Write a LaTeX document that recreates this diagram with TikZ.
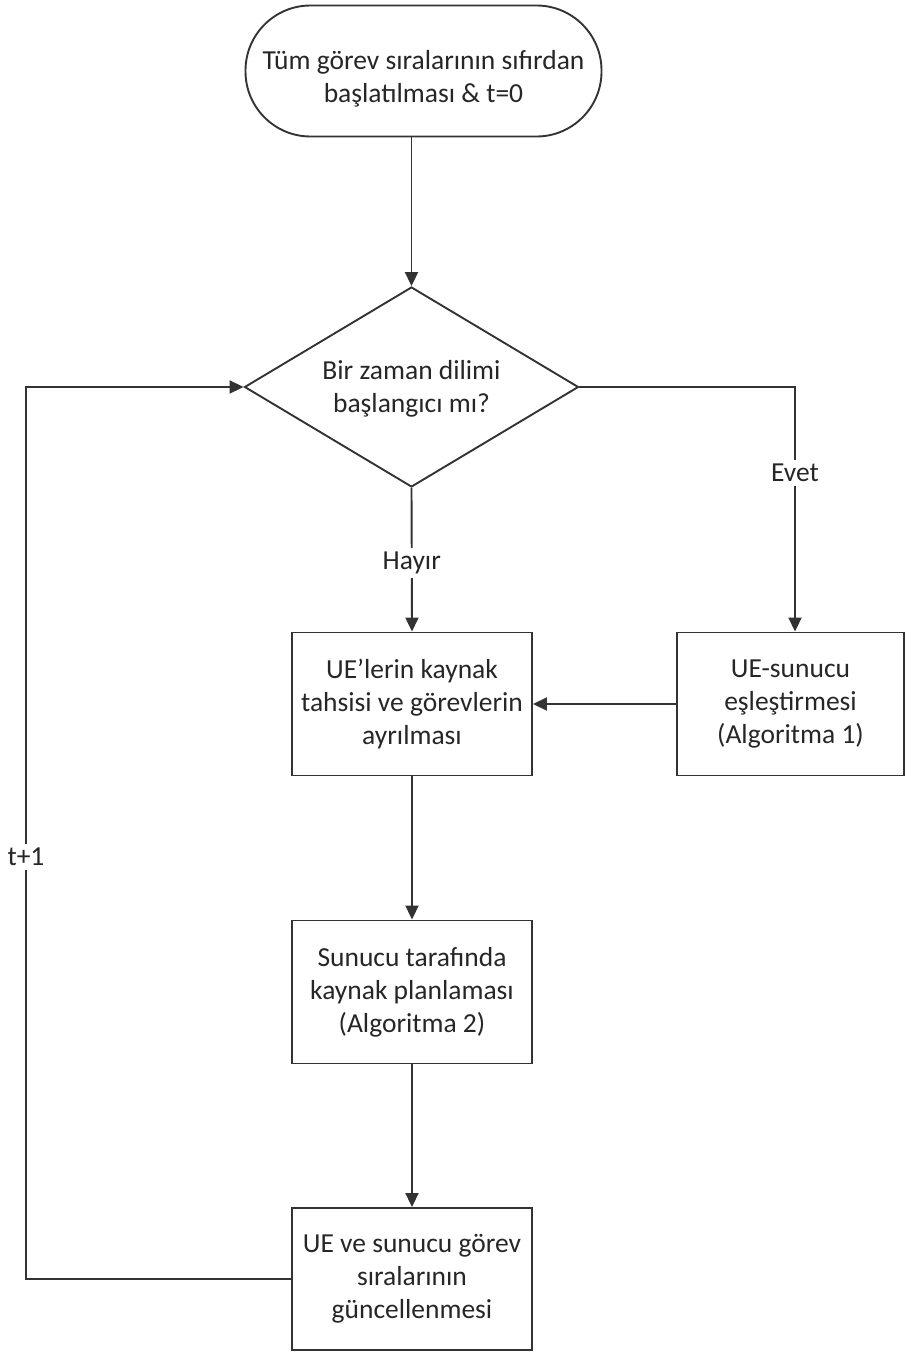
\documentclass[tikz,border=0pt]{standalone}
\usepackage{fontspec}
\setmainfont{Carlito}
\usetikzlibrary{arrows.meta,shapes.geometric}

\tikzset{
  line/.style={draw=black!80, line width=1.9pt},
  arr/.style={line, -{Triangle[length=14pt,width=13pt]}},
  txt/.style={align=center, inner sep=0pt,
    font=\fontsize{27.5pt}{33pt}\selectfont, text=black!85},
  procbox/.style={line, rectangle, txt},
  lbl/.style={fill=white, inner sep=4pt, font=\fontsize{27.5pt}{32pt}\selectfont, text=black!85}
}

\begin{document}
\begin{tikzpicture}[x=1pt,y=-1pt]
  \useasboundingbox (0,0) rectangle (906,1354);

  % start terminal (outline and its text)
  \node[line, rounded corners=65pt, minimum width=356pt, minimum height=131pt]
    (start) at (423.5,71) {};
  \node[txt] (startText) at (423.5,79) {Tüm görev sıralarının sıfırdan\\başlatılması \& t=0};

  % decision (outline and its text)
  \node[line, shape=diamond, minimum width=334pt, minimum height=200pt, inner sep=0pt]
    (dec) at (411.5,387) {};
  \node[txt] (decText) at (411.5,389) {Bir zaman dilimi\\başlangıcı mı?};

  % process boxes
  \node[procbox, minimum width=240pt, minimum height=143pt]
    (alloc) at (412,704) {UE’lerin kaynak\\tahsisi ve görevlerin\\ayrılması};
  \node[procbox, minimum width=227pt, minimum height=143pt]
    (match) at (790.5,704) {UE-sunucu\\eşleştirmesi\\(Algoritma 1)};
  \node[procbox, minimum width=240pt, minimum height=143pt]
    (sched) at (412,992) {Sunucu tarafında\\kaynak planlaması\\(Algoritma 2)};
  \node[procbox, minimum width=240pt, minimum height=142pt]
    (upd) at (412,1279) {UE ve sunucu görev\\sıralarının\\güncellenmesi};

  % corner points of the routed connectors
  \coordinate (yesc) at (795,387);
  \coordinate (loopb) at (26,1279);
  \coordinate (loopt) at (26,387);

  % connectors
  \draw[arr] (start.south -| dec.north) -- (dec.north);
  \draw[arr] (dec.south) -- node[lbl, pos=0.52] {Hayır} (alloc.north);
  \draw[arr] (dec.east) -- (yesc) -- node[lbl, pos=0.35] {Evet} (yesc |- match.north);
  \draw[arr] (match.west) -- (alloc.east);
  \draw[arr] (alloc.south) -- (sched.north);
  \draw[arr] (sched.south) -- (upd.north);
  \draw[arr] (upd.west) -- (loopb) -- node[lbl, pos=0.473] {t+1} (loopt) -- (dec.west);
\end{tikzpicture}
\end{document}
